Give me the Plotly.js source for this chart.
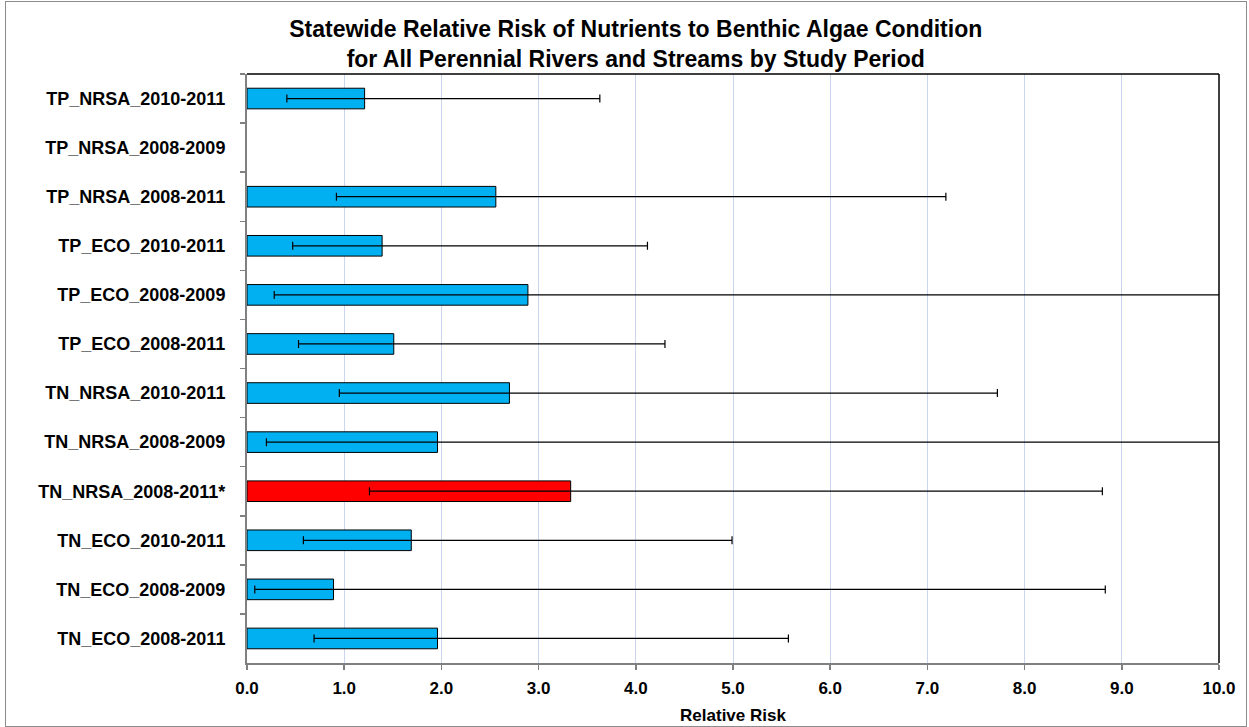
<!DOCTYPE html>
<html>
<head>
<meta charset="utf-8">
<script src="https://cdn.plot.ly/plotly-3.0.1.min.js"></script>
<style>
  body { margin: 0; background: #fff; }
  #chart { width: 1249px; height: 727px; position: relative; }
  #frame { position: absolute; left: 5px; top: 1px; width: 1240px; height: 724px; border: 1px solid #8c8c8c; pointer-events: none; }
</style>
</head>
<body>
<div style="position:relative">
  <div id="chart"></div>
  <div id="frame"></div>
</div>
<script>
// Categories listed top to bottom as shown
const categories = [
  "TP_NRSA_2010-2011",
  "TP_NRSA_2008-2009",
  "TP_NRSA_2008-2011",
  "TP_ECO_2010-2011",
  "TP_ECO_2008-2009",
  "TP_ECO_2008-2011",
  "TN_NRSA_2010-2011",
  "TN_NRSA_2008-2009",
  "TN_NRSA_2008-2011*",
  "TN_ECO_2010-2011",
  "TN_ECO_2008-2009",
  "TN_ECO_2008-2011"
];
const relativeRisk = [1.21, null, 2.56, 1.39, 2.89, 1.51, 2.70, 1.96, 3.33, 1.69, 0.89, 1.96];
const lowerCI      = [0.41, null, 0.92, 0.47, 0.28, 0.53, 0.95, 0.20, 1.26, 0.58, 0.08, 0.69];
const upperCI      = [3.63, null, 7.19, 4.12, 12.0, 4.30, 7.72, 12.0, 8.80, 4.99, 8.83, 5.57];
const significant  = [false, false, false, false, false, false, false, false, true, false, false, false];

const barColors = significant.map(s => s ? "#FF0000" : "#00B0F0");
const errPlus  = relativeRisk.map((v, i) => v === null ? null : upperCI[i] - v);
const errMinus = relativeRisk.map((v, i) => v === null ? null : v - lowerCI[i]);

const trace = {
  type: "bar",
  orientation: "h",
  y: categories,
  x: relativeRisk,
  width: 0.42,
  marker: { color: barColors, line: { color: "#000000", width: 1 } },
  error_x: {
    type: "data",
    symmetric: false,
    array: errPlus,
    arrayminus: errMinus,
    color: "#000000",
    thickness: 1.2,
    width: 4
  },
  hoverinfo: "x+y"
};

const font = "Liberation Sans, Arial, sans-serif";

const layout = {
  width: 1249,
  height: 727,
  margin: { l: 247, r: 30, t: 74, b: 64 },
  paper_bgcolor: "#ffffff",
  plot_bgcolor: "#ffffff",
  showlegend: false,
  title: {
    text: "<b>Statewide Relative Risk of Nutrients to Benthic Algae Condition<br>for All Perennial Rivers and Streams by Study Period</b>",
    font: { family: font, size: 23, color: "#000000" },
    x: 0.509, xref: "container", xanchor: "center",
    y: 0.949, yref: "container", yanchor: "top"
  },
  xaxis: {
    range: [0, 10],
    dtick: 1,
    tick0: 0,
    tickformat: ".1f",
    showgrid: true,
    gridcolor: "#C9D6EE",
    gridwidth: 1,
    zeroline: false,
    showline: true,
    linecolor: "#808080",
    linewidth: 2,
    ticks: "outside",
    ticklen: 5,
    tickcolor: "#808080",
    tickwidth: 1.5,
    ticklabelstandoff: 4,
    tickfont: { family: font, size: 17, color: "#000000", weight: "bold" },
    title: { text: "<b>Relative Risk</b>", font: { family: font, size: 17, color: "#000000" }, standoff: 12 },
    fixedrange: true
  },
  yaxis: {
    type: "category",
    autorange: "reversed",
    showgrid: false,
    zeroline: false,
    showline: true,
    linecolor: "#808080",
    linewidth: 2,
    ticks: "outside",
    tickson: "boundaries",
    ticklen: 5,
    tickcolor: "#808080",
    tickwidth: 1.5,
    tickfont: { family: font, size: 18, color: "#000000", weight: "bold" },
    ticklabelstandoff: 16,
    fixedrange: true
  },
  shapes: [
    { type: "line", xref: "paper", yref: "paper", x0: 0, x1: 1, y0: 1, y1: 1, line: { color: "#000000", width: 1.5 } },
    { type: "line", xref: "paper", yref: "paper", x0: 1, x1: 1, y0: 0, y1: 1, line: { color: "#000000", width: 1.5 } }
  ],
  bargap: 0.58
};

Plotly.newPlot("chart", [trace], layout, { displayModeBar: false, staticPlot: true });
</script>
</body>
</html>
